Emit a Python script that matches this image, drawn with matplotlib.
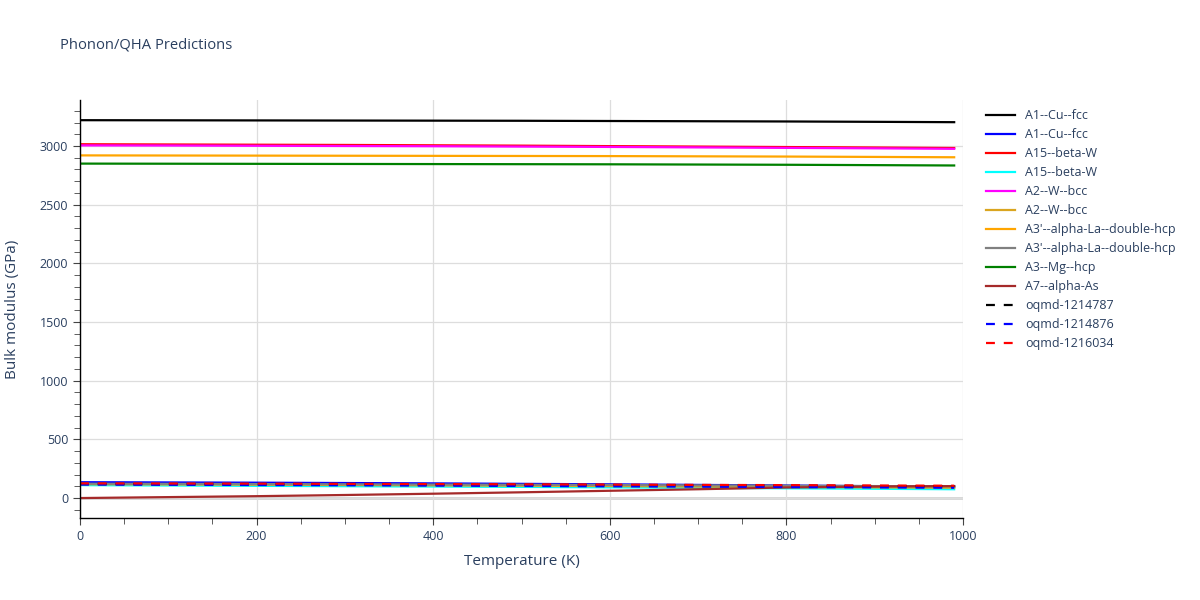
import matplotlib
matplotlib.use('Agg')
import matplotlib.pyplot as plt
from matplotlib.ticker import MultipleLocator

plt.rcParams['font.family'] = ['Open Sans', 'DejaVu Sans']

# temperatures (K)
temps = [0, 100, 200, 300, 400, 500, 600, 700, 800, 900, 990]

# bulk modulus (GPa) per series
a1_cu_black = [3220, 3219, 3218, 3217, 3216, 3215, 3213, 3211, 3209, 3206, 3203]
a1_cu_blue = [135, 133, 131, 128, 125, 121, 117, 112, 107, 101, 96]
a15_w_red = [3015, 3013, 3011, 3009, 3006, 3003, 2999, 2995, 2991, 2987, 2983]
a15_w_cyan = [110, 107, 104, 101, 98, 95, 91, 87, 83, 79, 75]
a2_w_magenta = [3005, 3004, 3002, 3000, 2998, 2995, 2992, 2988, 2984, 2980, 2976]
a2_w_gold = [118, 116, 114, 111, 108, 105, 102, 98, 95, 91, 88]
a3p_la_orange = [2920, 2919, 2918, 2917, 2916, 2915, 2914, 2912, 2910, 2907, 2904]
a3p_la_gray = [122, 121, 119, 117, 115, 113, 111, 108, 105, 102, 100]
a3_mg_green = [2850, 2849, 2848, 2847, 2846, 2845, 2844, 2842, 2840, 2837, 2834]
a7_as_brown = [0, 8, 16, 26, 37, 49, 62, 75, 90, 98, 102]
oqmd_1214787 = [120, 119, 117, 116, 114, 112, 110, 108, 105, 102, 100]
oqmd_1214876 = [115, 113, 111, 109, 106, 103, 100, 97, 94, 91, 88]
oqmd_1216034 = [125, 124, 123, 121, 119, 117, 115, 112, 110, 107, 105]

series = [
    ('A1--Cu--fcc', a1_cu_black, 'black', '-'),
    ('A1--Cu--fcc', a1_cu_blue, 'blue', '-'),
    ('A15--beta-W', a15_w_red, 'red', '-'),
    ('A15--beta-W', a15_w_cyan, 'cyan', '-'),
    ('A2--W--bcc', a2_w_magenta, 'magenta', '-'),
    ('A2--W--bcc', a2_w_gold, 'goldenrod', '-'),
    ("A3'--alpha-La--double-hcp", a3p_la_orange, 'orange', '-'),
    ("A3'--alpha-La--double-hcp", a3p_la_gray, 'gray', '-'),
    ('A3--Mg--hcp', a3_mg_green, 'green', '-'),
    ('A7--alpha-As', a7_as_brown, 'brown', '-'),
    ('oqmd-1214787', oqmd_1214787, 'black', '--'),
    ('oqmd-1214876', oqmd_1214876, 'blue', '--'),
    ('oqmd-1216034', oqmd_1216034, 'red', '--'),
]

txt = '#2a3f5f'

fig = plt.figure(figsize=(12, 6), dpi=100)
ax = fig.add_axes([80 / 1200, 1 - 518 / 600, 883 / 1200, 418 / 600])

for name, vals, color, ls in series:
    if ls == '--':
        ax.plot(temps, vals, color=color, linestyle=(0, (4, 4)), linewidth=1.6, label=name)
    else:
        ax.plot(temps, vals, color=color, linewidth=1.6, label=name)

ax.set_xlim(0, 1000)
ax.set_ylim(-170, 3392)
ax.xaxis.set_major_locator(MultipleLocator(200))
ax.xaxis.set_minor_locator(MultipleLocator(50))
ax.yaxis.set_major_locator(MultipleLocator(500))
ax.yaxis.set_minor_locator(MultipleLocator(100))
ax.grid(True, which='major', color='#dddddd', linewidth=0.9)
ax.axhline(0, color='#cccccc', linewidth=1.8, zorder=0.5)
ax.set_axisbelow(True)

for side in ['top', 'right']:
    ax.spines[side].set_visible(False)
for side in ['left', 'bottom']:
    ax.spines[side].set_color('black')
    ax.spines[side].set_linewidth(1)

ax.tick_params(which='both', direction='out', color='#444444', labelcolor=txt, labelsize=9)
ax.tick_params(which='major', length=5)
ax.tick_params(which='minor', length=4)

ax.set_xlabel('Temperature (K)', color=txt, fontsize=11, labelpad=8)
ax.set_ylabel('Bulk modulus (GPa)', color=txt, fontsize=11, labelpad=14)

fig.text(60 / 1200, 1 - 45 / 600, 'Phonon/QHA Predictions', color=txt, fontsize=10.6, va='center')

leg = fig.legend(loc='upper left', bbox_to_anchor=(981 / 1200, 1 - 104 / 600),
                 frameon=False, fontsize=9, handlelength=2.3, labelspacing=0.48,
                 borderaxespad=0)
for t in leg.get_texts():
    t.set_color(txt)

fig.savefig('out.png', dpi=100)
